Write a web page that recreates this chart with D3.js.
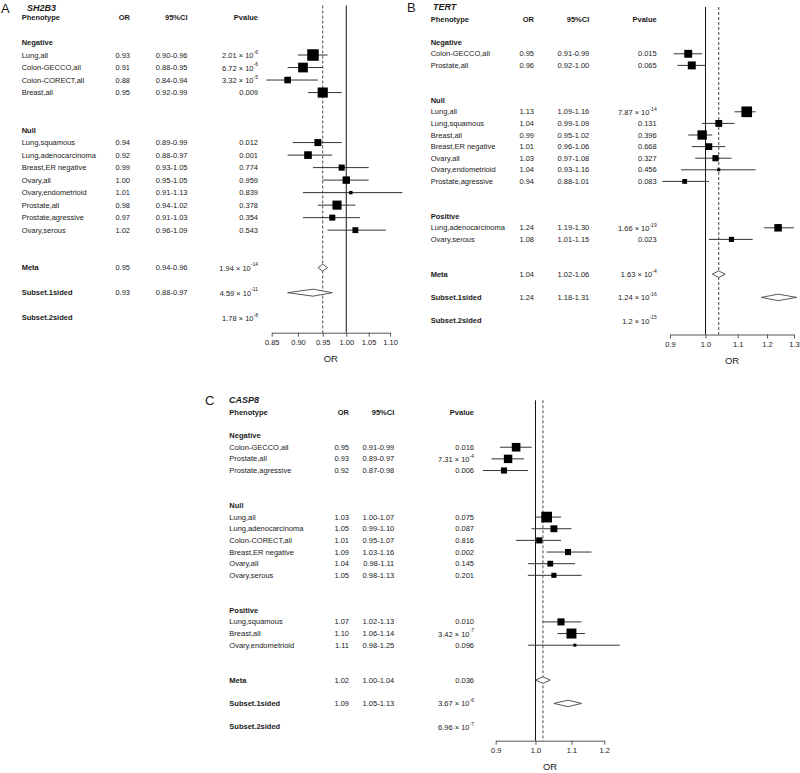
<!DOCTYPE html>
<html><head><meta charset="utf-8">
<script src="https://cdn.jsdelivr.net/npm/d3@7"></script>
<style>
body{margin:0;background:#fff}
text{font-family:"Liberation Sans",Arial,sans-serif;fill:#1a1a1a}
</style>
</head><body>
<svg id="chart" width="800" height="773"></svg>
<script>
// ---------------- DATA ----------------
// Panel A: SH2B3
const sh2b3Group = ["Negative","Negative","Negative","Negative","Null","Null","Null","Null","Null","Null","Null","Null"];
const sh2b3Phenotype = ["Lung,all","Colon-GECCO,all","Colon-CORECT,all","Breast,all","Lung,squamous","Lung,adenocarcinoma","Breast,ER negative","Ovary,all","Ovary,endometrioid","Prostate,all","Prostate,agressive","Ovary,serous"];
const sh2b3OR    = [0.93,0.91,0.88,0.95,0.94,0.92,0.99,1.00,1.01,0.98,0.97,1.02];
const sh2b3Lower = [0.90,0.88,0.84,0.92,0.89,0.88,0.93,0.95,0.91,0.94,0.91,0.96];
const sh2b3Upper = [0.96,0.95,0.94,0.99,0.99,0.97,1.05,1.05,1.13,1.02,1.03,1.09];
const sh2b3P     = ["2.01e-6","6.72e-6","3.32e-5","0.009","0.012","0.001","0.774","0.959","0.839","0.378","0.354","0.543"];
const sh2b3SumLabel = ["Meta","Subset.1sided","Subset.2sided"];
const sh2b3SumOR    = [0.95,0.93,null];
const sh2b3SumLower = [0.94,0.88,null];
const sh2b3SumUpper = [0.96,0.97,null];
const sh2b3SumP     = ["1.94e-14","4.59e-11","1.78e-8"];
const sh2b3Ticks = [0.85,0.90,0.95,1.00,1.05,1.10];

// Panel B: TERT
const tertGroup = ["Negative","Negative","Null","Null","Null","Null","Null","Null","Null","Positive","Positive"];
const tertPhenotype = ["Colon-GECCO,all","Prostate,all","Lung,all","Lung,squamous","Breast,all","Breast,ER negative","Ovary,all","Ovary,endometrioid","Prostate,agressive","Lung,adenocarcinoma","Ovary,serous"];
const tertOR    = [0.95,0.96,1.13,1.04,0.99,1.01,1.03,1.04,0.94,1.24,1.08];
const tertLower = [0.91,0.92,1.09,0.99,0.95,0.96,0.97,0.93,0.88,1.19,1.01];
const tertUpper = [0.99,1.00,1.16,1.09,1.02,1.06,1.08,1.16,1.01,1.30,1.15];
const tertP     = ["0.015","0.065","7.87e-14","0.131","0.396","0.668","0.327","0.456","0.083","1.66e-19","0.023"];
const tertSumLabel = ["Meta","Subset.1sided","Subset.2sided"];
const tertSumOR    = [1.04,1.24,null];
const tertSumLower = [1.02,1.18,null];
const tertSumUpper = [1.06,1.31,null];
const tertSumP     = ["1.63e-4","1.24e-16","1.2e-15"];
const tertTicks = [0.9,1.0,1.1,1.2,1.3];

// Panel C: CASP8
const casp8Group = ["Negative","Negative","Negative","Null","Null","Null","Null","Null","Null","Positive","Positive","Positive"];
const casp8Phenotype = ["Colon-GECCO,all","Prostate,all","Prostate,agressive","Lung,all","Lung,adenocarcinoma","Colon-CORECT,all","Breast,ER negative","Ovary,all","Ovary,serous","Lung,squamous","Breast,all","Ovary,endometrioid"];
const casp8OR    = [0.95,0.93,0.92,1.03,1.05,1.01,1.09,1.04,1.05,1.07,1.10,1.11];
const casp8Lower = [0.91,0.89,0.87,1.00,0.99,0.95,1.03,0.98,0.98,1.02,1.06,0.98];
const casp8Upper = [0.99,0.97,0.98,1.07,1.10,1.07,1.16,1.11,1.13,1.13,1.14,1.25];
const casp8P     = ["0.016","7.31e-4","0.006","0.075","0.087","0.816","0.002","0.145","0.201","0.010","3.42e-7","0.096"];
const casp8SumLabel = ["Meta","Subset.1sided","Subset.2sided"];
const casp8SumOR    = [1.02,1.09,null];
const casp8SumLower = [1.00,1.05,null];
const casp8SumUpper = [1.04,1.13,null];
const casp8SumP     = ["0.036","3.67e-6","6.96e-7"];
const casp8Ticks = [0.9,1.0,1.1,1.2];

const headerLabels = ["Phenotype","OR","95%CI","Pvalue"];

// ---------------- LAYOUT ----------------
const panels = [
  {letter:"A", gene:"SH2B3", letterX:1, geneX:27, titleY:8,
   labelX:21.7, orRight:130, ciRight:187.5, pRight:258,
   row1Y:17.5, lastY:317.7, xRange:[271.7,390], tickFmt:".2f",
   data:[sh2b3Group,sh2b3Phenotype,sh2b3OR,sh2b3Lower,sh2b3Upper,sh2b3P,sh2b3SumLabel,sh2b3SumOR,sh2b3SumLower,sh2b3SumUpper,sh2b3SumP], ticks:sh2b3Ticks},
  {letter:"B", gene:"TERT", letterX:407, geneX:433, titleY:7,
   labelX:430.7, orRight:534, ciRight:589.3, pRight:656.7,
   row1Y:19, lastY:320.6, xRange:[670,794], tickFmt:".1f",
   data:[tertGroup,tertPhenotype,tertOR,tertLower,tertUpper,tertP,tertSumLabel,tertSumOR,tertSumLower,tertSumUpper,tertSumP], ticks:tertTicks},
  {letter:"C", gene:"CASP8", letterX:205, geneX:229, titleY:400,
   labelX:229.3, orRight:349, ciRight:394.3, pRight:474,
   row1Y:412.3, lastY:726.7, xRange:[495.7,604.3], tickFmt:".1f",
   data:[casp8Group,casp8Phenotype,casp8OR,casp8Lower,casp8Upper,casp8P,casp8SumLabel,casp8SumOR,casp8SumLower,casp8SumUpper,casp8SumP], ticks:casp8Ticks}
];

function buildRows(groups, phen, or, lo, hi, p, sLab, sOR, sLo, sHi, sP){
  const rows = []; let r = 1;
  rows.push({type:"header", row:r}); r += 2;
  const order = [...new Set(groups)];
  order.forEach(g => {
    rows.push({type:"group", label:g, row:r}); r++;
    groups.forEach((gg,i) => {
      if (gg === g) { rows.push({type:"study", label:phen[i], or:or[i], lo:lo[i], hi:hi[i], p:p[i], row:r}); r++; }
    });
    r += 2;
  });
  sLab.forEach((l,i) => {
    rows.push({type:"summary", label:l, or:sOR[i], lo:sLo[i], hi:sHi[i], p:sP[i], row:r}); r += 2;
  });
  return {rows, nRows: r - 2};
}

function writeP(sel, p){
  if (p.indexOf("e") >= 0) {
    const [m, e] = p.split("e");
    sel.append("tspan").text(m + " \u00d7 10");
    sel.append("tspan").attr("dy", -3.2).attr("font-size", 5).text(e);
  } else {
    sel.text(p);
  }
}

const svg = d3.select("#chart");
const FS = 7.5;

panels.forEach(P => {
  const {rows, nRows} = buildRows(...P.data);
  const y = d3.scaleLinear().domain([1, nRows]).range([P.row1Y, P.lastY]);
  const rowH = (P.lastY - P.row1Y) / (nRows - 1);
  const x = d3.scaleLog().domain([P.ticks[0], P.ticks[P.ticks.length-1]]).range(P.xRange);
  const g = svg.append("g");

  // letter & gene
  g.append("text").attr("x", P.letterX).attr("y", P.titleY).attr("dominant-baseline","central")
    .attr("font-size", 13).text(P.letter);
  g.append("text").attr("x", P.geneX).attr("y", P.titleY).attr("dominant-baseline","central")
    .attr("font-size", 9).attr("font-weight","bold").attr("font-style","italic").text(P.gene);

  const topY = P.row1Y - 12;
  const axisY = P.lastY + rowH * 1.2;

  // reference lines
  g.append("line").attr("x1", x(1)).attr("x2", x(1)).attr("y1", topY).attr("y2", axisY)
    .attr("stroke", "#111").attr("stroke-width", 1);
  const meta = rows.find(d => d.type === "summary");
  g.append("line").attr("x1", x(meta.or)).attr("x2", x(meta.or)).attr("y1", topY).attr("y2", axisY)
    .attr("stroke", "#333").attr("stroke-width", 0.9).attr("stroke-dasharray", "3,2");

  // text rows
  rows.forEach(d => {
    const yy = y(d.row);
    const t = (xx, anchor, bold, txt) => g.append("text").attr("x", xx).attr("y", yy)
      .attr("dominant-baseline","central").attr("text-anchor", anchor)
      .attr("font-size", FS).attr("font-weight", bold ? "bold" : "normal").text(txt);
    if (d.type === "header") {
      t(P.labelX, "start", true, headerLabels[0]);
      t(P.orRight, "end", true, headerLabels[1]);
      t(P.ciRight, "end", true, headerLabels[2]);
      t(P.pRight, "end", true, headerLabels[3]);
    } else if (d.type === "group") {
      t(P.labelX, "start", true, d.label);
    } else {
      t(P.labelX, "start", d.type === "summary", d.label);
      if (d.or != null) {
        t(P.orRight, "end", false, d3.format(".2f")(d.or));
        t(P.ciRight, "end", false, d3.format(".2f")(d.lo) + "-" + d3.format(".2f")(d.hi));
      }
      writeP(t(P.pRight, "end", false, ""), d.p);
    }
  });

  // studies: CI lines and boxes
  const studies = rows.filter(d => d.type === "study");
  const info = d => 1 / Math.log(d.hi / d.lo);
  const boxSize = d3.scaleLinear().domain([0, d3.max(studies, info)]).range([0, rowH * 0.92]);
  g.selectAll(".ci").data(studies).join("line")
    .attr("x1", d => x(d.lo)).attr("x2", d => x(d.hi))
    .attr("y1", d => y(d.row)).attr("y2", d => y(d.row))
    .attr("stroke", "#333").attr("stroke-width", 1);
  g.selectAll(".box").data(studies).join("rect")
    .attr("x", d => x(d.or) - boxSize(info(d)) / 2)
    .attr("y", d => y(d.row) - boxSize(info(d)) / 2)
    .attr("width", d => boxSize(info(d))).attr("height", d => boxSize(info(d)))
    .attr("fill", "#000");

  // summary diamonds
  const sums = rows.filter(d => d.type === "summary" && d.or != null);
  const hh = rowH * 0.28;
  g.selectAll(".dia").data(sums).join("path")
    .attr("d", d => {
      const yy = y(d.row);
      return `M${x(d.lo)},${yy}L${x(d.or)},${yy-hh}L${x(d.hi)},${yy}L${x(d.or)},${yy+hh}Z`;
    })
    .attr("fill", "#fff").attr("stroke", "#444").attr("stroke-width", 0.9);

  // axis
  const ax = g.append("g").attr("transform", `translate(0,${axisY})`)
    .call(d3.axisBottom(x).tickValues(P.ticks).tickFormat(d3.format(P.tickFmt)).tickSize(4).tickSizeOuter(0));
  ax.select(".domain").attr("stroke", "#555");
  ax.selectAll(".tick line").attr("stroke", "#555");
  ax.selectAll(".tick text").attr("font-size", 7.5).attr("font-family", "Liberation Sans, Arial, sans-serif")
    .attr("fill", "#1a1a1a").attr("dy", "0.55em").attr("y", 8);
  g.append("text").attr("x", (P.xRange[0] + P.xRange[1]) / 2)
    .attr("y", axisY + 26).attr("dominant-baseline","central").attr("text-anchor","middle")
    .attr("font-size", 9.5).text("OR");
});
</script>
</body></html>
